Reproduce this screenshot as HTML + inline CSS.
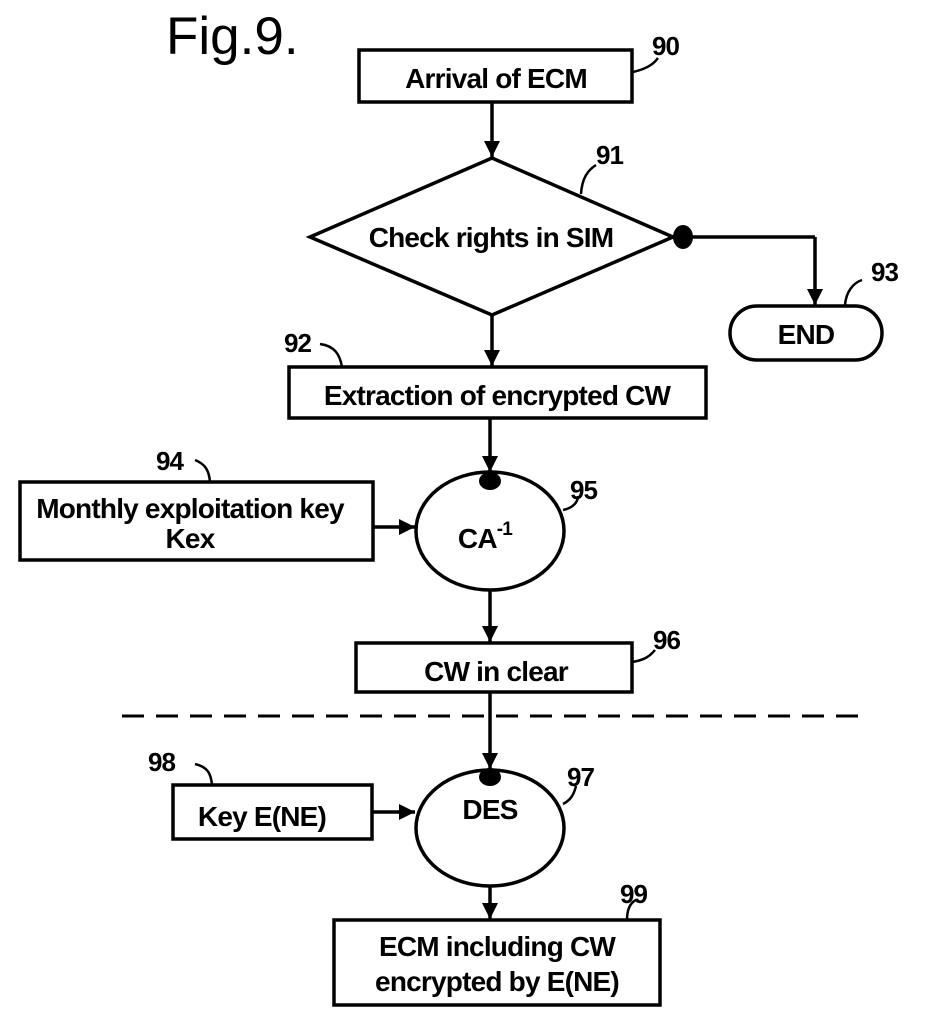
<!DOCTYPE html>
<html><head><style>
html,body{margin:0;padding:0;background:#fff;}
svg{display:block;}
text{font-family:"Liberation Sans",Arial,sans-serif;fill:#000;}
</style></head><body>
<svg width="928" height="1025" viewBox="0 0 928 1025" xmlns="http://www.w3.org/2000/svg">
<defs>
<marker id="b" viewBox="0 0 10 10" markerWidth="16" markerHeight="22" refX="10" refY="5" orient="auto" markerUnits="userSpaceOnUse"><path d="M0,0 L10,5 L0,10 Z" fill="#000"/></marker></defs>
<text x="166" y="54" font-size="53">Fig.9.</text>
<g stroke="#000" stroke-width="3.5" fill="none">
<rect x="359" y="50" width="273" height="52"/>
<polygon points="310,237 492,158 673,237 492,315"/>
<rect x="289" y="367" width="417" height="51"/>
<rect x="730" y="306" width="152" height="54" rx="27"/>
<ellipse cx="490" cy="531" rx="74" ry="59"/>
<rect x="20" y="482" width="353" height="78"/>
<rect x="356" y="643" width="276" height="49"/>
<ellipse cx="490" cy="828" rx="74" ry="58"/>
<rect x="173" y="785" width="199" height="54"/>
<rect x="334" y="920" width="326" height="85"/>
<line x1="122" y1="716" x2="858" y2="716" stroke-width="3" stroke-dasharray="22,12"/>
<line x1="492" y1="102" x2="492" y2="157" marker-end="url(#b)"/>
<line x1="492" y1="315" x2="492" y2="366" marker-end="url(#b)"/>
<line x1="683" y1="237" x2="815" y2="237"/>
<line x1="815" y1="237" x2="815" y2="305" marker-end="url(#b)"/>
<line x1="490" y1="418" x2="490" y2="472" marker-end="url(#b)"/>
<line x1="373" y1="527" x2="415" y2="527" marker-end="url(#b)"/>
<line x1="490" y1="590" x2="490" y2="642" marker-end="url(#b)"/>
<line x1="490" y1="692" x2="490" y2="769" marker-end="url(#b)"/>
<line x1="372" y1="812" x2="415" y2="812" marker-end="url(#b)"/>
<line x1="490" y1="886" x2="490" y2="919" marker-end="url(#b)"/>
<path d="M633,72 C650,68 655,62 658,58" stroke-width="2.5"/>
<path d="M581,194 C582,178 588,170 596,165" stroke-width="2.5"/>
<path d="M342,367 C340,355 335,346 320,344" stroke-width="2.5"/>
<path d="M845,305 C846,292 853,283 862,280" stroke-width="2.5"/>
<path d="M210,482 C209,470 205,464 195,460" stroke-width="2.5"/>
<path d="M563,510 C573,508 578,502 578,496" stroke-width="2.5"/>
<path d="M632,662 C645,660 650,656 655,650" stroke-width="2.5"/>
<path d="M563,804 C571,800 574,794 576,786" stroke-width="2.5"/>
<path d="M212,785 C211,774 208,767 195,764" stroke-width="2.5"/>
<path d="M627,920 C627,910 630,903 636,900" stroke-width="2.5"/>
</g>
<ellipse cx="683" cy="237" rx="10" ry="12" fill="#000"/>
<ellipse cx="490" cy="481" rx="11" ry="9" fill="#000"/>
<ellipse cx="490" cy="777" rx="11" ry="9" fill="#000"/>
<g font-size="28" font-weight="bold" text-anchor="middle" letter-spacing="-0.8">
<text x="496" y="88">Arrival of ECM</text>
<text x="491" y="247">Check rights in SIM</text>
<text x="497" y="405">Extraction of encrypted CW</text>
<text x="806" y="344">END</text>
<text x="190" y="518">Monthly exploitation key</text>
<text x="190" y="548">Kex</text>
<text x="485" y="548">CA<tspan font-size="19" dy="-13">-1</tspan></text>
<text x="496" y="681">CW in clear</text>
<text x="490" y="819">DES</text>
<text x="262" y="826">Key E(NE)</text>
<text x="497" y="956">ECM including CW</text>
<text x="497" y="991">encrypted by E(NE)</text>
</g>
<g font-size="26" font-weight="bold" letter-spacing="-1">
<text x="652" y="55">90</text>
<text x="596" y="164">91</text>
<text x="284" y="352">92</text>
<text x="871" y="281">93</text>
<text x="156" y="470">94</text>
<text x="570" y="499">95</text>
<text x="653" y="649">96</text>
<text x="567" y="786">97</text>
<text x="148" y="771">98</text>
<text x="620" y="903">99</text>
</g>
</svg>
</body></html>
